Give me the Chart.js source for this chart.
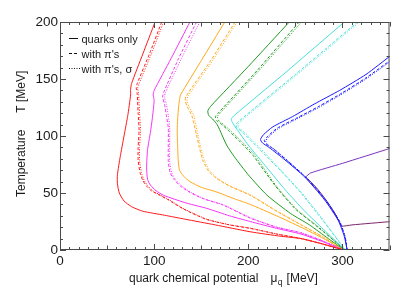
<!DOCTYPE html>
<html>
<head>
<meta charset="utf-8">
<script src="https://cdn.jsdelivr.net/npm/chart.js@4.4.1/dist/chart.umd.min.js"></script>
<style>
  html, body { margin: 0; padding: 0; background: #fff; }
  canvas { display: block; }
</style>
</head>
<body>
<canvas id="isentropes" width="412" height="292"></canvas>
<script>
// tick labels
const xTickLabels = [0, 100, 200, 300];
const yTickLabels = [0, 50, 100, 150, 200];
const legendLabels = ["quarks only", "with \u03c0's", "with \u03c0's, \u03c3"];

// curves: [mu_q (MeV), T (MeV)], from top to T = 0
const redSolid = [[101,200],[88,172],[76,146],[75,141],[75,136],[72,118],[68,100],[64,82],[61,66],[61,58],[63,50],[68,43],[76,38],[88,34],[111,30.5],[133,27],[165,22],[202,16],[235,12],[256,10],[280,5],[301,0]];
const redDashed = [[108,200],[95,172],[82,146],[81,142],[82,137],[83,120],[84,105],[83,90],[83,79],[85,68],[88,61],[92,56],[97,52],[106,48],[115,44],[131,36],[155,27],[180,22],[202,19],[230,14],[256,10],[280,5],[301,0]];
const redDotted = [[110,200],[97,172],[84,146],[82.5,142],[83.5,137],[84.5,120],[85.5,105],[84.5,90],[84.5,79],[86.5,68],[89.5,61],[93.5,56],[98.5,52],[107,48],[116,44],[132,36],[156,27],[181,22],[203,19],[231,14],[257,10],[281,5],[301,0]];

const magentaSolid = [[138,200],[118,168],[100,140],[99,136],[100,131],[98,115],[96,103],[93,88],[92,72],[93,62],[96,57],[102,52],[110,48],[120,45],[135,41],[156,36.5],[180,30],[202,25],[230,19],[256,14],[280,7],[301,0]];
const magentaDashed = [[145,200],[126,168],[110,138],[109,134],[111,128],[113,118],[115,107],[115,90],[115,78],[117,68],[121,62],[128,56],[138,50.5],[152,45],[173,39.5],[202,28],[230,20],[256,15],[280,7.5],[301,0]];
const magentaDotted = [[148.5,200],[129,168],[112,138],[111,134],[113,128],[115,118],[116.5,107],[116.5,90],[116.5,78],[118.5,68],[122.5,62],[129.5,56],[139.5,50.5],[153,45],[174,39.5],[203,28],[231,20],[257,15],[281,7.5],[301,0]];

const orangeSolid = [[175,200],[150,166],[128,136],[127,132],[126,126],[125,115],[124.5,105],[125,90],[125.6,78],[127,70],[131,65],[138,60],[150,55],[166,51],[185,45],[202,40],[230,30],[256,20],[280,10],[301,0]];
const orangeDashed = [[186,200],[160,166],[134,135],[133,131],[135,126],[140,118],[145,101],[148,90],[152,78],[158,69],[166,63],[180,56],[202,48],[230,34],[256,22],[280,11],[301,0]];
const orangeDotted = [[188,200],[162,166],[136,135],[135,131],[137,126],[142,118],[146.5,101],[149.5,90],[153.5,78],[159.5,69],[167,63],[181,56],[203,48],[231,34],[257,22],[281,11],[301,0]];

const greenSolid = [[243.5,200],[200,161],[160,126],[157,122],[158,118],[162,115],[167,110],[172,101],[177,92],[185,82],[200,66],[220,48],[245,32],[265,22],[285,10],[302,0]];
const greenDashed = [[254,200],[210,158],[168,120],[165,117],[167,113],[172,110],[180,104],[190,96],[205,83],[228,57],[250,36],[274,20],[290,9],[302,0]];
const greenDotted = [[256.5,200],[212,158],[170,120],[167,117],[169,113],[174,110],[182,104],[192,96],[207,83],[229,57],[251,36],[275,20],[290,9],[302,0]];

const cyanSolid = [[302,200],[240,156],[185,118],[182,115],[183,112],[187,107],[200,92],[220,72],[239,53],[260,34],[280,18],[303,0]];
const cyanDashed = [[316,200],[250,154],[190,113],[187,110],[188,107],[193,104],[210,90],[235,69],[256,50],[280,25],[303,0]];
const cyanDotted = [[318,200],[252,154],[192,113],[189,110],[190,107],[195,104],[212,90],[236,69],[257,50],[281,25],[303,0]];

const blueSolid = [[352,171],[325,154],[297,140],[270,128],[247,117],[226,108],[216,101],[213,97],[215,94],[222,90],[239,79],[260,64],[281,44],[295.5,26],[302,12],[305,0]];
const blueDashed = [[352,167],[325,151],[300,138],[275,126],[252,116],[231,107],[221,100],[217,96],[219,93],[226,89],[242,78],[262,63],[283,43],[297,25],[303,11],[305,0]];
const blueDotted = [[352,166],[325,150],[301,137.5],[276,125.5],[253,115.5],[232,106.5],[222,99.5],[218.5,95.5],[220.5,92.5],[227.5,88.5],[243,77.5],[263,62.5],[283.5,42.5],[297.5,24.5],[303,11],[305,0]];

const purpleUpper = [[261,64],[266,67.5],[300,76],[352,89.5]];
const purpleLower = [[261,64],[272,55],[282,44.5],[291,33.5],[296.5,25],[299,21],[310,22],[352,25]];

const DASH = {solid: [], dashed: [3, 2], dotted: [1, 1.5]};

function curve(points, color, style) {
  return {
    data: points.map(p => ({x: p[0], y: p[1]})),
    borderColor: color,
    borderWidth: 1,
    borderDash: DASH[style],
    showLine: true,
    pointRadius: 0,
    tension: 0.2,
    fill: false
  };
}

const datasets = [
  curve(redSolid, "#ff1a1a", "solid"), curve(redDashed, "#ff1a1a", "dashed"), curve(redDotted, "#ff1a1a", "dotted"),
  curve(magentaSolid, "#f535f5", "solid"), curve(magentaDashed, "#f535f5", "dashed"), curve(magentaDotted, "#f535f5", "dotted"),
  curve(orangeSolid, "#ffa81a", "solid"), curve(orangeDashed, "#ffa81a", "dashed"), curve(orangeDotted, "#ffa81a", "dotted"),
  curve(greenSolid, "#1f9a1f", "solid"), curve(greenDashed, "#1f9a1f", "dashed"), curve(greenDotted, "#1f9a1f", "dotted"),
  curve(cyanSolid, "#45e0d6", "solid"), curve(cyanDashed, "#45e0d6", "dashed"), curve(cyanDotted, "#45e0d6", "dotted"),
  curve(blueSolid, "#1a1aff", "solid"), curve(blueDashed, "#1a1aff", "dashed"), curve(blueDotted, "#1a1aff", "dotted"),
  curve(purpleUpper, "#7a34c0", "solid"), curve(purpleLower, "#7a2468", "solid")
];

// frame, inward ticks, axis titles and legend
const decorations = {
  id: "decorations",
  afterDraw(chart) {
    const {ctx, chartArea: a, scales: {x, y}} = chart;
    ctx.save();
    ctx.strokeStyle = "#4a4a4a";
    ctx.lineWidth = 1;
    ctx.strokeRect(a.left + 0.5, a.top + 0.5, a.right - a.left - 1, a.bottom - a.top - 1);

    ctx.beginPath();
    for (let v = 0; v <= 350; v += 10) {
      const px = Math.round(x.getPixelForValue(v)) + 0.5;
      const len = v % 100 === 0 ? 6 : (v % 50 === 0 ? 4.5 : 3);
      ctx.moveTo(px, a.bottom); ctx.lineTo(px, a.bottom - len);
      ctx.moveTo(px, a.top); ctx.lineTo(px, a.top + len);
    }
    for (let v = 0; v <= 200; v += 10) {
      const py = Math.round(y.getPixelForValue(v)) + 0.5;
      const len = v % 50 === 0 ? 6 : 3;
      ctx.moveTo(a.left, py); ctx.lineTo(a.left + len, py);
      ctx.moveTo(a.right, py); ctx.lineTo(a.right - len, py);
    }
    ctx.stroke();

    ctx.fillStyle = "#1a1a1a";
    ctx.textBaseline = "alphabetic";
    // x title
    const big = "12px 'Liberation Sans', Arial, sans-serif";
    const small = "8.5px 'Liberation Sans', Arial, sans-serif";
    let cx = 129;
    ctx.font = big;
    ctx.fillText("quark chemical potential", cx, 282);
    cx += ctx.measureText("quark chemical potential").width + 12;
    ctx.fillText("\u03bc", cx, 282);
    cx += ctx.measureText("\u03bc").width + 0.5;
    ctx.font = small;
    ctx.fillText("q", cx, 285);
    cx += ctx.measureText("q").width + 4;
    ctx.font = big;
    ctx.fillText("[MeV]", cx, 282);

    // y title
    ctx.save();
    ctx.translate(24.5, 197);
    ctx.rotate(-Math.PI / 2);
    ctx.font = big;
    ctx.fillText("Temperature", 0, 0);
    ctx.fillText("T [MeV]", ctx.measureText("Temperature").width + 17, 0);
    ctx.restore();

    // legend
    const rows = [38.5, 53.5, 68.5];
    const styles = ["solid", "dashed", "dotted"];
    const ends = [78, 79, 80];
    ctx.font = "11px 'Liberation Sans', Arial, sans-serif";
    ctx.strokeStyle = "#111";
    ctx.lineWidth = 1;
    legendLabels.forEach((label, i) => {
      ctx.setLineDash(DASH[styles[i]]);
      ctx.beginPath();
      ctx.moveTo(69, rows[i]); ctx.lineTo(ends[i], rows[i]);
      ctx.stroke();
      ctx.setLineDash([]);
      ctx.fillText(label, 81.5, rows[i] + 4);
    });
    ctx.restore();
  }
};

new Chart(document.getElementById("isentropes"), {
  type: "scatter",
  data: {datasets: datasets},
  options: {
    responsive: false,
    animation: false,
    devicePixelRatio: 1,
    layout: {padding: {left: 0, right: 22.5, top: 22, bottom: 0}},
    plugins: {legend: {display: false}, tooltip: {enabled: false}},
    scales: {
      x: {
        type: "linear", min: 0, max: 350,
        grid: {display: false, drawTicks: false},
        border: {display: false},
        ticks: {color: "#1a1a1a", padding: 3, maxRotation: 0, autoSkip: false, font: {family: "'Liberation Sans', Arial, sans-serif", size: 13.5}},
        afterBuildTicks: s => { s.ticks = xTickLabels.map(v => ({value: v})); },
        afterFit: s => { s.height = 42; }
      },
      y: {
        type: "linear", min: 0, max: 200,
        grid: {display: false, drawTicks: false},
        border: {display: false},
        ticks: {color: "#1a1a1a", padding: 2, autoSkip: false, font: {family: "'Liberation Sans', Arial, sans-serif", size: 13.5}},
        afterBuildTicks: s => { s.ticks = yTickLabels.map(v => ({value: v})); },
        afterFit: s => { s.width = 60; }
      }
    }
  },
  plugins: [decorations]
});
</script>
</body>
</html>
